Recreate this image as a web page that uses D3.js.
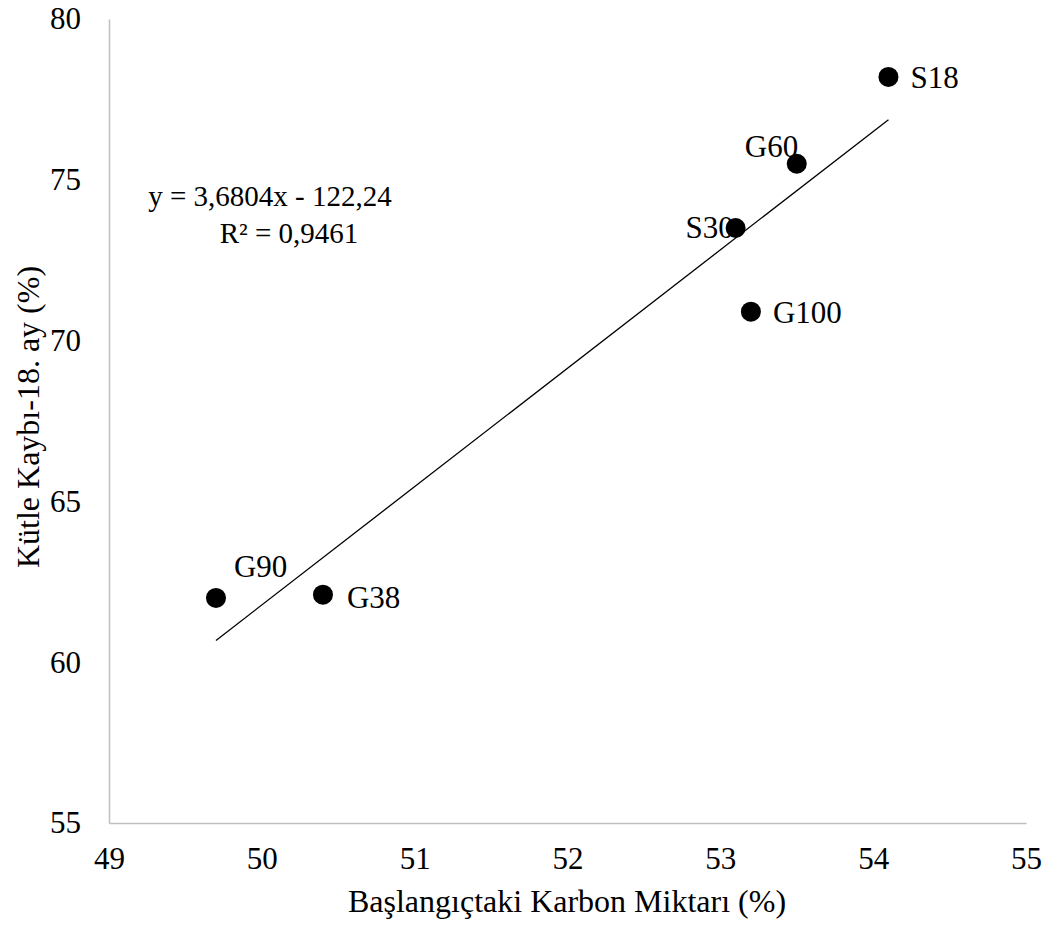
<!DOCTYPE html>
<html>
<head>
<meta charset="utf-8">
<script src="https://cdn.jsdelivr.net/npm/d3@7"></script>
<style>
  body { margin: 0; background: #fff; }
  text { font-family: "Liberation Serif", "Times New Roman", serif; fill: #000; }
</style>
</head>
<body>
<div id="chart"></div>
<script>
// data
const labels = ["S18", "G60", "S30", "G100", "G90", "G38"];
const carbon = [54.1, 53.5, 53.1, 53.2, 49.7, 50.4];
const massLoss = [78.2, 75.5, 73.5, 70.9, 62.0, 62.1];
const xTicks = [49, 50, 51, 52, 53, 54, 55];
const yTicks = [55, 60, 65, 70, 75, 80];
// linear trendline as printed on the chart
const slope = 3.6804;
const intercept = -122.24;

const width = 1056;
const height = 926;
const margin = { top: 19, right: 30, bottom: 103, left: 109 };

const svg = d3.select("#chart")
    .append("svg")
    .attr("width", width)
    .attr("height", height);

const x = d3.scaleLinear().domain([49, 55]).range([margin.left, width - margin.right]);
const y = d3.scaleLinear().domain([55, 80]).range([height - margin.bottom, margin.top]);

// axes
const xAxis = svg.append("g")
    .attr("transform", `translate(0,${height - margin.bottom})`)
    .call(d3.axisBottom(x).tickValues(xTicks).tickSize(0).tickPadding(24).tickFormat(d3.format("d")));
const yAxis = svg.append("g")
    .attr("transform", `translate(${margin.left},0)`)
    .call(d3.axisLeft(y).tickValues(yTicks).tickSize(0).tickPadding(28).tickFormat(d3.format("d")));

[xAxis, yAxis].forEach(g => {
    g.select(".domain").attr("stroke", "#bfbfbf").attr("stroke-width", 1.5);
    g.selectAll("text").style("font-size", "31px").attr("fill", "#000");
});
yAxis.selectAll("text").attr("dy", "0.32em");

// trendline
const xMin = d3.min(carbon), xMax = d3.max(carbon);
svg.append("line")
    .attr("x1", x(xMin)).attr("y1", y(slope * xMin + intercept))
    .attr("x2", x(xMax)).attr("y2", y(slope * xMax + intercept))
    .attr("stroke", "#000")
    .attr("stroke-width", 1.3);

// points
const pts = labels.map((d, i) => ({ name: d, cx: carbon[i], cy: massLoss[i] }));
svg.selectAll("circle")
    .data(pts)
    .enter().append("circle")
    .attr("cx", d => x(d.cx))
    .attr("cy", d => y(d.cy))
    .attr("r", 10)
    .attr("fill", "#000");

// label offsets (dx, dy)
const labelPos = {
    S18: [22, 11],
    G60: [-52, -7],
    S30: [-50, 10],
    G100: [22, 11],
    G90: [18, -21],
    G38: [24, 13]
};
svg.selectAll("text.pt")
    .data(pts)
    .enter().append("text")
    .attr("class", "pt")
    .attr("x", d => x(d.cx) + labelPos[d.name][0])
    .attr("y", d => y(d.cy) + labelPos[d.name][1])
    .style("font-size", "31px")
    .text(d => d.name);

// equation
svg.append("text")
    .attr("x", 270).attr("y", 206)
    .attr("text-anchor", "middle")
    .style("font-size", "29px")
    .text("y = 3,6804x - 122,24");
svg.append("text")
    .attr("x", 289).attr("y", 243)
    .attr("text-anchor", "middle")
    .style("font-size", "29px")
    .text("R² = 0,9461");

// axis titles
svg.append("text")
    .attr("x", 567).attr("y", 912)
    .attr("text-anchor", "middle")
    .style("font-size", "32px")
    .text("Başlangıçtaki Karbon Miktarı (%)");
svg.append("text")
    .attr("transform", "translate(39,417) rotate(-90)")
    .attr("text-anchor", "middle")
    .style("font-size", "32px")
    .text("Kütle Kaybı-18. ay (%)");
</script>
</body>
</html>
